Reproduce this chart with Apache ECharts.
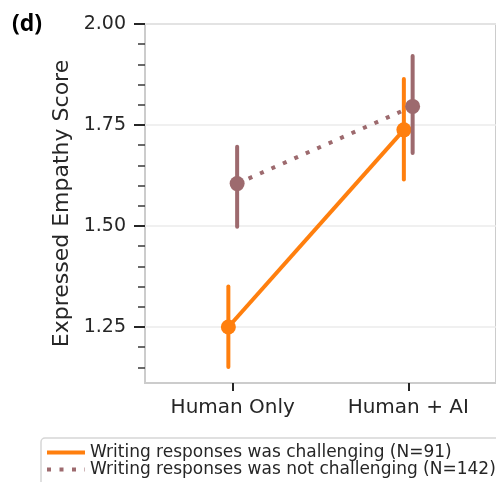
<!DOCTYPE html>
<html>
<head>
<meta charset="utf-8">
<script src="https://cdn.jsdelivr.net/npm/echarts@6/dist/echarts.min.js"></script>
<style>
html,body{margin:0;padding:0;background:#fff;}
#chart{width:496px;height:482px;}
</style>
</head>
<body>
<div id="chart"></div>
<script>
// ---- data ----
const categories = ['Human Only', 'Human + AI'];
const seriesNames = ['Writing responses was challenging (N=91)', 'Writing responses was not challenging (N=142)'];
const challengingMean = [1.250, 1.738];
const challengingLow  = [1.151, 1.615];
const challengingHigh = [1.350, 1.864];
const notChallMean = [1.605, 1.796];
const notChallLow  = [1.498, 1.681];
const notChallHigh = [1.696, 1.921];
const yMajorTicks = [1.25, 1.50, 1.75, 2.00];
const yMinorTicks = [1.15, 1.20, 1.30, 1.35, 1.40, 1.45, 1.55, 1.60, 1.65, 1.70, 1.80, 1.85, 1.90, 1.95];

// ---- styling ----
const FONT = 'DejaVu Sans';
const ORANGE = '#ff7f0e';
const BROWN = '#9d6a6e';
const DODGE = 0.025;

function pts(mean, dodge) { return mean.map((v, i) => [i + dodge, v]); }
function bars(low, high, dodge) { return low.map((v, i) => [i + dodge, v, high[i]]); }
function errRender(color) {
  return function (params, api) {
    const x = api.value(0);
    const p1 = api.coord([x, api.value(1)]);
    const p2 = api.coord([x, api.value(2)]);
    return {
      type: 'line',
      shape: { x1: p1[0], y1: p1[1], x2: p2[0], y2: p2[1] },
      style: { stroke: color, lineWidth: 4, lineCap: 'round' }
    };
  };
}

const chart = echarts.init(document.getElementById('chart'), null, { renderer: 'canvas' });
chart.setOption({
  animation: false,
  backgroundColor: '#fff',
  textStyle: { fontFamily: FONT },
  title: {
    text: '(d)', left: 12, top: 13, padding: 0,
    textStyle: { fontFamily: 'Open Sans', fontSize: 23, fontWeight: 'bold', color: '#000' }
  },
  grid: {
    left: 145, top: 24, width: 360, height: 359,
    show: true, borderColor: '#cccccc', borderWidth: 2, backgroundColor: 'transparent'
  },
  legend: {
    orient: 'vertical', left: 41, top: 438, height: 80,
    data: seriesNames,
    itemWidth: 38, itemHeight: 12, itemGap: 0,
    padding: [6, 8, 8, 4],
    borderColor: '#d6d6d6', borderWidth: 1.5, borderRadius: 4,
    backgroundColor: '#fff',
    itemStyle: { opacity: 0 },
    lineStyle: { width: 4 },
    textStyle: { fontFamily: FONT, fontSize: 17, lineHeight: 17, color: '#262626' }
  },
  xAxis: {
    type: 'value', min: -0.5, max: 1.5,
    axisLine: { show: false, onZero: false },
    splitLine: { show: false },
    axisTick: { customValues: [0, 1], length: 8, lineStyle: { color: '#262626', width: 2 } },
    axisLabel: {
      customValues: [0, 1], margin: 15,
      formatter: v => categories[Math.round(v)],
      fontFamily: FONT, fontSize: 20, color: '#262626'
    }
  },
  yAxis: [{
    type: 'value', min: 1.1114, max: 2.0,
    name: 'Expressed Empathy Score', nameLocation: 'middle', nameGap: 50,
    nameTextStyle: { fontFamily: FONT, fontSize: 22, color: '#262626' },
    axisLine: { show: false, onZero: false },
    axisTick: { customValues: yMajorTicks, length: 11, lineStyle: { color: '#262626', width: 2 } },
    axisLabel: {
      customValues: yMajorTicks, margin: 19,
      formatter: v => v.toFixed(2),
      fontFamily: FONT, fontSize: 19, color: '#262626'
    },
    splitLine: { show: true, lineStyle: { color: '#ebebeb', width: 1.5 } }
  }, {
    type: 'value', min: 1.1114, max: 2.0, position: 'left',
    axisLine: { show: false, onZero: false },
    axisTick: { customValues: yMinorTicks, length: 7, lineStyle: { color: '#3a3a3a', width: 1.5 } },
    axisLabel: { show: false, customValues: yMinorTicks },
    splitLine: { show: false }
  }],
  series: [
    {
      name: 'challenging-err', type: 'custom', renderItem: errRender(ORANGE),
      data: bars(challengingLow, challengingHigh, -DODGE), z: 2
    },
    {
      name: seriesNames[0], type: 'line', symbol: 'none',
      data: pts(challengingMean, -DODGE),
      lineStyle: { color: ORANGE, width: 4 }, itemStyle: { color: ORANGE }, z: 3
    },
    {
      name: 'challenging-pts', type: 'scatter', symbol: 'circle', symbolSize: 15,
      data: pts(challengingMean, -DODGE), itemStyle: { color: ORANGE, opacity: 1 }, z: 4
    },
    {
      name: 'notchall-err', type: 'custom', renderItem: errRender(BROWN),
      data: bars(notChallLow, notChallHigh, DODGE), z: 5
    },
    {
      name: seriesNames[1], type: 'line', symbol: 'none',
      data: pts(notChallMean, DODGE),
      lineStyle: { color: BROWN, width: 4, type: [4, 8.5] }, itemStyle: { color: BROWN }, z: 6
    },
    {
      name: 'notchall-pts', type: 'scatter', symbol: 'circle', symbolSize: 15,
      data: pts(notChallMean, DODGE), itemStyle: { color: BROWN, opacity: 1 }, z: 7
    }
  ]
});
</script>
</body>
</html>
